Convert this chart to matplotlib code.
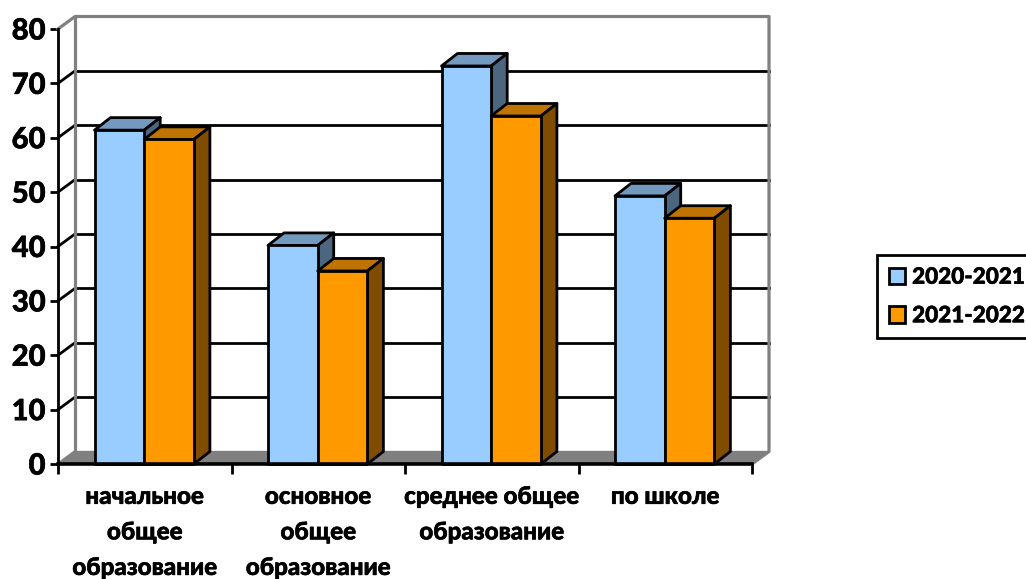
import matplotlib
matplotlib.use('Agg')
import numpy as np
import matplotlib.pyplot as plt
import matplotlib.patheffects as pe
from matplotlib.patches import Polygon, Patch

plt.rcParams['font.family'] = ['Lato', 'DejaVu Sans']
plt.rcParams['font.weight'] = 'black'

# Data
categories = ['начальное\nобщее\nобразование', 'основное\nобщее\nобразование',
              'среднее общее\nобразование', 'по школе']
years = ['2020-2021', '2021-2022']
values_2020 = [61.4, 40.2, 73.2, 49.3]
values_2021 = [59.7, 35.5, 64.0, 45.2]
y_ticks = [0, 10, 20, 30, 40, 50, 60, 70, 80]

W, H = 1026, 579
fig = plt.figure(figsize=(W / 100, H / 100), dpi=100)
# front plane of the fake 3d box, in pixels: x 58..752, y 464..29
ax = fig.add_axes([58 / W, 1 - 464 / H, (752 - 58) / W, (464 - 29) / H])
ax.set_xlim(0, 4)
ax.set_ylim(0, 80)

px_x = 4 / (752 - 58)
px_y = 80 / (464 - 29)
wall_dx, wall_dy = 17 * px_x, 12.5 * px_y
bar_dx, bar_dy = 16 * px_x, 12.5 * px_y
bar_w = 49.7 * px_x
bar_off = 36.5 * px_x
LW = 2.0
GREY = '#808080'
bold = [pe.withStroke(linewidth=0.4, foreground='black')]


def poly(pts, fc, ec='black', lw=LW, z=3):
    ax.add_patch(Polygon(pts, closed=True, facecolor=fc, edgecolor=ec,
                         linewidth=lw, zorder=z, clip_on=False, joinstyle='round'))


# floor
poly([(0, 0), (wall_dx, wall_dy), (4 + wall_dx, wall_dy), (4, 0)], GREY, GREY, 1, 1)

# back wall grid and the diagonals on the side wall
for v in y_ticks[1:-1]:
    ax.plot([wall_dx, 4 + wall_dx], [v + wall_dy] * 2, color='black', lw=LW, zorder=1.5, clip_on=False)
    ax.plot([0, wall_dx], [v, v + wall_dy], color='black', lw=LW, zorder=1.5, clip_on=False)

# grey wall outline
ax.plot([0, wall_dx, 4 + wall_dx, 4 + wall_dx, 4], [80, 80 + wall_dy, 80 + wall_dy, wall_dy, 0],
        color=GREY, lw=LW + 0.3, zorder=2, clip_on=False)
ax.plot([wall_dx, wall_dx], [wall_dy, 80 + wall_dy], color=GREY, lw=LW + 0.3, zorder=2, clip_on=False)
ax.plot([0, wall_dx], [0, wall_dy], color=GREY, lw=LW, zorder=2, clip_on=False)


def bar3d(x, v, front, top, side):
    poly([(x, v), (x + bar_dx, v + bar_dy), (x + bar_w + bar_dx, v + bar_dy), (x + bar_w, v)], top)
    poly([(x + bar_w, 0), (x + bar_w + bar_dx, bar_dy), (x + bar_w + bar_dx, v + bar_dy), (x + bar_w, v)], side)
    poly([(x, 0), (x + bar_w, 0), (x + bar_w, v), (x, v)], front)


for i in range(len(categories)):
    bar3d(i + bar_off, values_2020[i], '#99CCFF', '#7399BF', '#4D6680')
    bar3d(i + bar_off + bar_w, values_2021[i], '#FF9900', '#BF7300', '#804D00')

for s in ['top', 'right']:
    ax.spines[s].set_visible(False)
ax.spines['left'].set_linewidth(LW)
ax.spines['bottom'].set_linewidth(LW + 0.6)
ax.spines['left'].set_zorder(4)
ax.spines['bottom'].set_zorder(4)
ax.patch.set_alpha(0)

ax.set_yticks(y_ticks)
ax.tick_params(axis='y', length=6, width=LW, labelsize=21, pad=3)
ax.set_xticks(range(5))
ax.set_xticklabels([])
ax.tick_params(axis='x', which='major', length=7, width=LW)
ax.set_xticks(np.arange(4) + 0.5, minor=True)
ax.set_xticklabels(categories, minor=True, fontsize=17.4, linespacing=1.66)
ax.tick_params(axis='x', which='minor', length=0, pad=15)
for t in ax.get_yticklabels() + ax.get_xticklabels(minor=True):
    t.set_path_effects(bold)

handles = [Patch(facecolor='#99CCFF', edgecolor='black', linewidth=LW),
           Patch(facecolor='#FF9900', edgecolor='black', linewidth=LW)]
leg = fig.legend(handles, years, loc='upper left', bbox_to_anchor=(877 / W, 1 - 255 / H),
                 bbox_transform=fig.transFigure, fontsize=16.2, fancybox=False, edgecolor='black',
                 framealpha=1, borderaxespad=0, handlelength=0.74, handleheight=0.74,
                 handletextpad=0.3, labelspacing=0.78, borderpad=0.52)
leg.get_frame().set_linewidth(LW)
for t in leg.get_texts():
    t.set_path_effects(bold)

fig.savefig('out.png', dpi=100)
